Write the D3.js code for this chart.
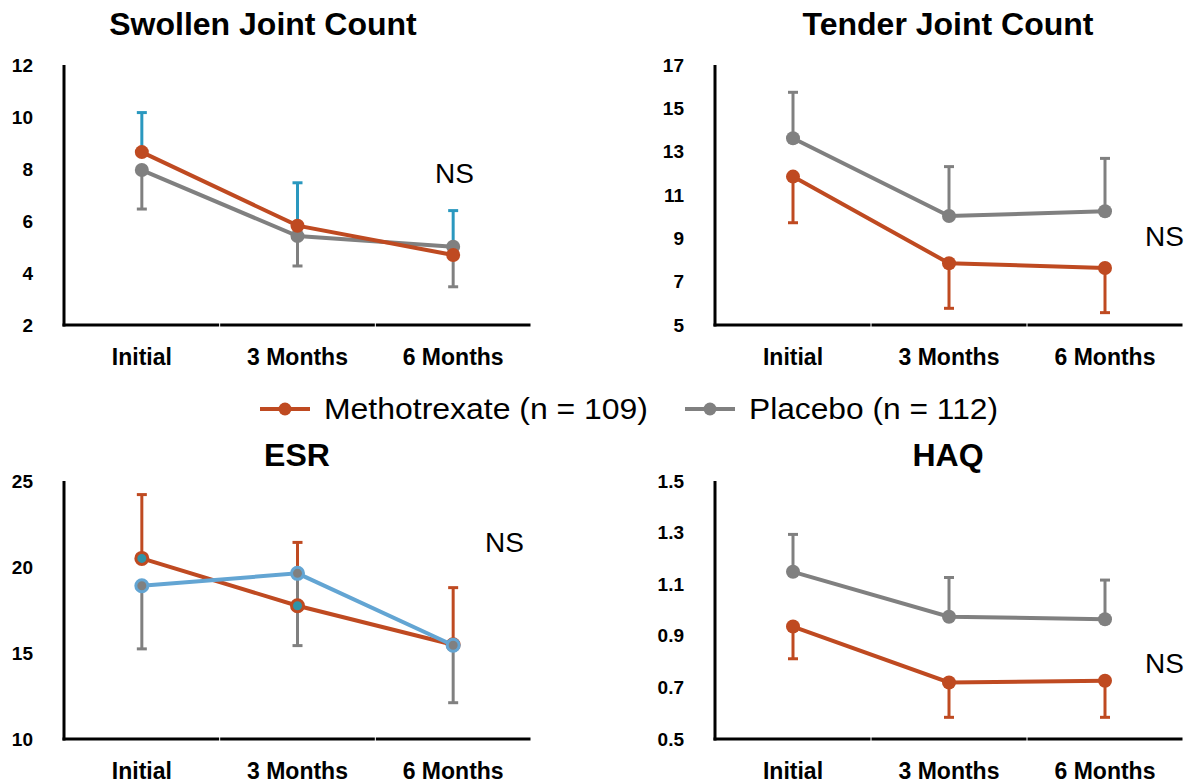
<!DOCTYPE html>
<html>
<head>
<meta charset="utf-8">
<script src="https://cdn.jsdelivr.net/npm/d3@7"></script>
<style>
  body { margin: 0; background: #fff; }
  svg { font-family: 'Liberation Sans', Arial, sans-serif; }
</style>
</head>
<body>
<svg width="1184" height="784"></svg>
<script>
'use strict';

// data
var categories = ['Initial', '3 Months', '6 Months'];
var seriesNames = ['Methotrexate (n = 109)', 'Placebo (n = 112)'];

var swollenMtx = [8.65, 5.82, 4.69];
var swollenPbo = [7.96, 5.42, 5.01];
var swollenMtxBar = [10.17, 7.47, 6.40];
var swollenPboBar = [6.46, 4.27, 3.47];
var swollenTicks = [2, 4, 6, 8, 10, 12];

var tenderMtx = [11.85, 7.85, 7.63];
var tenderPbo = [13.62, 10.03, 10.25];
var tenderMtxBar = [9.72, 5.77, 5.57];
var tenderPboBar = [15.74, 12.31, 12.69];
var tenderTicks = [5, 7, 9, 11, 13, 15, 17];

var esrMtx = [20.5, 17.75, 15.48];
var esrPbo = [18.91, 19.63, 15.45];
var esrMtxBar = [24.21, 21.43, 18.8];
var esrPboBar = [15.24, 15.43, 12.11];
var esrTicks = [10, 15, 20, 25];

var haqMtx = [0.936, 0.719, 0.726];
var haqPbo = [1.148, 0.974, 0.964];
var haqMtxBar = [0.811, 0.584, 0.584];
var haqPboBar = [1.293, 1.126, 1.116];
var haqTicks = [0.5, 0.7, 0.9, 1.1, 1.3, 1.5];

var ORANGE = '#bf4a21';
var GRAY = '#808080';
var TEAL = '#2a98bf';
var BLUE = '#63a5d3';

var svg = d3.select('svg');

var panels = [
    { title: 'Swollen Joint Count', titleX: 263, titleY: 35,
      x0: 64, x1: 531, top: 65, bottom: 325,
      ticks: swollenTicks, fmt: d3.format('d'),
      mtx: swollenMtx, pbo: swollenPbo, mtxBar: swollenMtxBar, pboBar: swollenPboBar,
      mtxBarColor: TEAL, pboBarColor: GRAY,
      mtxLine: ORANGE, pboLine: GRAY, mtxFill: ORANGE, pboFill: GRAY,
      ns: [435, 183] },
    { title: 'Tender Joint Count', titleX: 948, titleY: 35,
      x0: 715, x1: 1183, top: 65, bottom: 325,
      ticks: tenderTicks, fmt: d3.format('d'),
      mtx: tenderMtx, pbo: tenderPbo, mtxBar: tenderMtxBar, pboBar: tenderPboBar,
      mtxBarColor: ORANGE, pboBarColor: GRAY,
      mtxLine: ORANGE, pboLine: GRAY, mtxFill: ORANGE, pboFill: GRAY,
      ns: [1145, 246] },
    { title: 'ESR', titleX: 297, titleY: 466,
      x0: 64, x1: 531, top: 481, bottom: 739,
      ticks: esrTicks, fmt: d3.format('d'),
      mtx: esrMtx, pbo: esrPbo, mtxBar: esrMtxBar, pboBar: esrPboBar,
      mtxBarColor: ORANGE, pboBarColor: GRAY,
      mtxLine: ORANGE, pboLine: BLUE, mtxFill: '#2f93a8', pboFill: GRAY,
      ns: [485, 552] },
    { title: 'HAQ', titleX: 948, titleY: 466,
      x0: 715, x1: 1183, top: 481, bottom: 739,
      ticks: haqTicks, fmt: d3.format('.1f'),
      mtx: haqMtx, pbo: haqPbo, mtxBar: haqMtxBar, pboBar: haqPboBar,
      mtxBarColor: ORANGE, pboBarColor: GRAY,
      mtxLine: ORANGE, pboLine: GRAY, mtxFill: ORANGE, pboFill: GRAY,
      ns: [1145, 673] }
];

panels.forEach(function (p) {
    var g = svg.append('g');

    var x = d3.scaleBand().domain(categories).range([p.x0, p.x1]).padding(0);
    var y = d3.scaleLinear()
        .domain([p.ticks[0], p.ticks[p.ticks.length - 1]])
        .range([p.bottom, p.top]);
    var cx = function (d, i) { return x(categories[i]) + x.bandwidth() / 2; };

    // title
    g.append('text')
        .attr('x', p.titleX)
        .attr('y', p.titleY)
        .attr('text-anchor', 'middle')
        .attr('font-size', 32)
        .attr('font-weight', 'bold')
        .text(p.title);

    // y axis labels
    var ya = g.append('g')
        .attr('transform', 'translate(' + (p.x0 - 17) + ',0)')
        .call(d3.axisLeft(y).tickValues(p.ticks).tickFormat(p.fmt).tickSize(0).tickPadding(14));
    ya.select('.domain').remove();
    ya.selectAll('text')
        .attr('font-family', "'Liberation Sans', Arial, sans-serif")
        .attr('font-size', 19)
        .attr('font-weight', 'bold')
        .attr('fill', '#000');

    // y axis line
    g.append('line')
        .attr('x1', p.x0).attr('x2', p.x0)
        .attr('y1', y.range()[1]).attr('y2', y.range()[0] + 1.5)
        .attr('stroke', '#000').attr('stroke-width', 3);

    // x axis in segments per band
    g.selectAll('line.xseg')
        .data(categories)
        .enter()
        .append('line')
        .attr('class', 'xseg')
        .attr('x1', function (d, i) { return x(d) + (i === 0 ? -1.5 : 0.5); })
        .attr('x2', function (d) { return x(d) + x.bandwidth() - 0.5; })
        .attr('y1', p.bottom).attr('y2', p.bottom)
        .attr('stroke', '#000').attr('stroke-width', 3);

    // x labels
    g.selectAll('text.xlab')
        .data(categories)
        .enter()
        .append('text')
        .attr('class', 'xlab')
        .attr('x', cx)
        .attr('y', p.bottom + 40)
        .attr('text-anchor', 'middle')
        .attr('font-size', 23)
        .attr('font-weight', 'bold')
        .text(function (d) { return d; });

    // error bars
    function bars(from, to, color) {
        var eg = g.append('g').attr('stroke', color).attr('stroke-width', 3);
        eg.selectAll('line.stem')
            .data(from)
            .enter()
            .append('line')
            .attr('x1', cx).attr('x2', cx)
            .attr('y1', function (d) { return y(d); })
            .attr('y2', function (d, i) { return y(to[i]); });
        eg.selectAll('line.cap')
            .data(to)
            .enter()
            .append('line')
            .attr('x1', function (d, i) { return cx(d, i) - 5; })
            .attr('x2', function (d, i) { return cx(d, i) + 5; })
            .attr('y1', function (d) { return y(d); })
            .attr('y2', function (d) { return y(d); });
    }
    bars(p.mtx, p.mtxBar, p.mtxBarColor);
    bars(p.pbo, p.pboBar, p.pboBarColor);

    // lines and markers
    var line = d3.line()
        .x(function (d, i) { return cx(d, i); })
        .y(function (d) { return y(d); });

    function series(vals, lineColor, fill) {
        g.append('path')
            .datum(vals)
            .attr('d', line)
            .attr('fill', 'none')
            .attr('stroke', lineColor)
            .attr('stroke-width', 4);
        g.append('g')
            .selectAll('circle')
            .data(vals)
            .enter()
            .append('circle')
            .attr('cx', cx)
            .attr('cy', function (d) { return y(d); })
            .attr('r', fill === lineColor ? 7 : 6)
            .attr('fill', fill)
            .attr('stroke', lineColor)
            .attr('stroke-width', fill === lineColor ? 0 : 3);
    }
    if (p.title === 'ESR') {
        series(p.mtx, p.mtxLine, p.mtxFill);
        series(p.pbo, p.pboLine, p.pboFill);
    } else {
        series(p.pbo, p.pboLine, p.pboFill);
        series(p.mtx, p.mtxLine, p.mtxFill);
    }

    // NS
    g.append('text')
        .attr('x', p.ns[0])
        .attr('y', p.ns[1])
        .attr('font-size', 28)
        .text('NS');
});

// legend
var legendX = [260, 685];
var legendColors = [ORANGE, GRAY];
var lg = svg.append('g').selectAll('g')
    .data(seriesNames)
    .enter()
    .append('g')
    .attr('transform', function (d, i) { return 'translate(' + legendX[i] + ',409)'; });
lg.append('line')
    .attr('x1', 0).attr('x2', 50)
    .attr('stroke', function (d, i) { return legendColors[i]; })
    .attr('stroke-width', 4);
lg.append('circle')
    .attr('cx', 25).attr('r', 6.5)
    .attr('fill', function (d, i) { return legendColors[i]; });
lg.append('text')
    .attr('x', 64)
    .attr('y', 10)
    .attr('font-size', 29)
    .attr('textLength', function (d, i) { return i === 0 ? 324 : 249; })
    .attr('lengthAdjust', 'spacingAndGlyphs')
    .text(function (d) { return d; });
</script>
</body>
</html>
